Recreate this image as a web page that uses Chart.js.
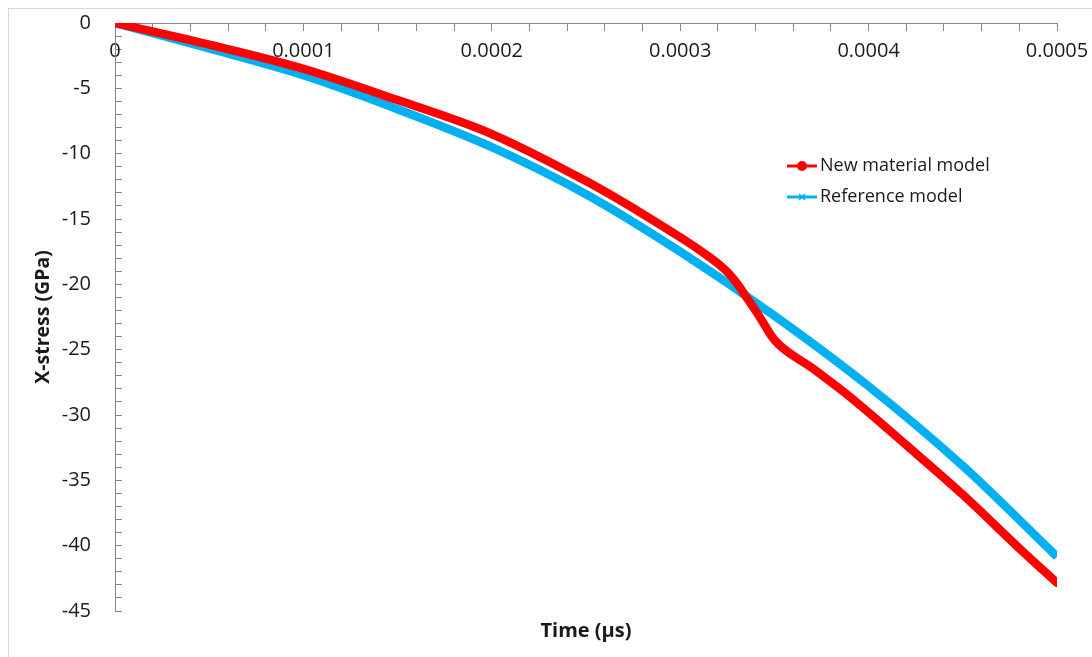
<!DOCTYPE html>
<html>
<head>
<meta charset="utf-8">
<script src="https://cdn.jsdelivr.net/npm/chart.js@4/dist/chart.umd.min.js"></script>
<style>
  html, body { margin: 0; padding: 0; background: #fff; }
  #frame { position: absolute; left: 8px; top: 8px; width: 1100px; height: 700px; border: 1px solid #d9d9d9; box-sizing: border-box; }
  #wrap { position: absolute; left: 0; top: 0; width: 1092px; height: 657px; }
</style>
</head>
<body>
<div id="frame"></div>
<div id="wrap"><canvas id="c" width="1092" height="657"></canvas></div>
<script>
// Time (µs)
const timeNew = [0, 0.00005, 0.0001, 0.00015, 0.0002, 0.00025, 0.00028, 0.0003, 0.00031, 0.00032, 0.000325, 0.00033, 0.000335, 0.000342, 0.00035, 0.00037, 0.00039, 0.00042, 0.00045, 0.00048, 0.0005];
// X-stress (GPa), New material model
const stressNew = [0, -1.65, -3.5, -5.9, -8.5, -12.1, -14.6, -16.4, -17.35, -18.4, -19.05, -19.9, -20.95, -22.45, -24.25, -26.4, -28.6, -32.3, -36.1, -40.2, -42.85];
// Time (µs)
const timeRef = [0, 0.00005, 0.0001, 0.00015, 0.0002, 0.00025, 0.0003, 0.00035, 0.0004, 0.00045, 0.0005];
// X-stress (GPa), Reference model
const stressRef = [0, -1.95, -4.0, -6.6, -9.5, -13.1, -17.5, -22.4, -27.8, -33.9, -40.85];

const seriesNames = ['New material model', 'Reference model'];
const xTickLabels = ['0', '0.0001', '0.0002', '0.0003', '0.0004', '0.0005'];
const yTickLabels = ['0', '-5', '-10', '-15', '-20', '-25', '-30', '-35', '-40', '-45'];

const RED = '#ff0000';
const BLUE = '#00b0f0';
const AXIS = '#868686';
const TXT = '#1a1a1a';

const toPts = (xs, ys) => xs.map((x, i) => ({x: x, y: ys[i]}));

const legendPlugin = {
  id: 'customLegend',
  afterDraw(chart) {
    const ctx = chart.ctx;
    const a = chart.chartArea;
    const x0 = a.left + 672, y0 = a.top + 143, gap = 31;
    const items = [
      {name: seriesNames[0], color: RED, marker: 'circle'},
      {name: seriesNames[1], color: BLUE, marker: 'cross'}
    ];
    ctx.save();
    items.forEach((it, i) => {
      const y = y0 + i * gap;
      ctx.strokeStyle = it.color;
      ctx.lineWidth = 3;
      ctx.beginPath();
      ctx.moveTo(x0, y);
      ctx.lineTo(x0 + 30, y);
      ctx.stroke();
      if (it.marker === 'circle') {
        ctx.fillStyle = it.color;
        ctx.beginPath();
        ctx.arc(x0 + 15, y, 5, 0, Math.PI * 2);
        ctx.fill();
      } else {
        ctx.lineWidth = 1.5;
        ctx.beginPath();
        ctx.moveTo(x0 + 12, y - 3); ctx.lineTo(x0 + 18, y + 3);
        ctx.moveTo(x0 + 12, y + 3); ctx.lineTo(x0 + 18, y - 3);
        ctx.stroke();
      }
      ctx.fillStyle = TXT;
      ctx.font = '18px "Open Sans"';
      ctx.textAlign = 'left';
      ctx.textBaseline = 'middle';
      ctx.fillText(it.name, x0 + 33, y);
    });
    ctx.restore();
  }
};

new Chart(document.getElementById('c'), {
  type: 'line',
  data: {
    datasets: [
      {
        label: seriesNames[0],
        data: toPts(timeNew, stressNew),
        borderColor: RED,
        backgroundColor: RED,
        borderWidth: 8.5,
        pointRadius: 0,
        borderCapStyle: 'round',
        borderJoinStyle: 'round',
        cubicInterpolationMode: 'monotone',
        xAxisID: 'x', yAxisID: 'y'
      },
      {
        label: seriesNames[1],
        data: toPts(timeRef, stressRef),
        borderColor: BLUE,
        backgroundColor: BLUE,
        borderWidth: 8.5,
        pointRadius: 0,
        borderCapStyle: 'butt',
        borderJoinStyle: 'round',
        cubicInterpolationMode: 'monotone',
        xAxisID: 'x', yAxisID: 'y'
      }
    ]
  },
  options: {
    responsive: false,
    animation: false,
    devicePixelRatio: 1,
    layout: { padding: { top: 23, right: 35, left: 0, bottom: 0 } },
    plugins: { legend: { display: false }, tooltip: { enabled: false } },
    scales: {
      x: {
        type: 'linear',
        position: { y: 0 },
        min: 0, max: 0.0005,
        grid: { drawOnChartArea: false, drawTicks: true, tickLength: 7, color: AXIS, lineWidth: 1 },
        border: { display: true, color: AXIS, width: 1 },
        ticks: {
          stepSize: 0.00002,
          autoSkip: false, maxRotation: 0, minRotation: 0,
          padding: 9,
          color: TXT,
          font: { family: '"Open Sans"', size: 20 },
          callback: (v) => {
            const k = Math.round(v / 0.0001);
            if (Math.abs(v / 0.0001 - k) < 1e-6) return xTickLabels[k];
            return '';
          }
        },
        afterFit: (s) => { s.height = 0; s.paddingLeft = 0; s.paddingRight = 0; s.paddingTop = 0; s.paddingBottom = 0; }
      },
      x2: {
        type: 'linear',
        position: 'bottom',
        min: 0, max: 0.0005,
        grid: { display: false },
        border: { display: false },
        ticks: { display: false },
        title: { display: true, text: 'Time (\u00b5s)', color: TXT, font: { family: '"Open Sans"', size: 20, weight: 'bold' }, padding: { top: 0, bottom: 14 } },
        afterFit: (s) => { s.height = 46; s.paddingLeft = 0; s.paddingRight = 0; }
      },
      y: {
        type: 'linear',
        position: 'left',
        min: -45, max: 0,
        grid: { drawOnChartArea: false, drawTicks: true, tickLength: -7, color: AXIS, lineWidth: 1 },
        border: { display: true, color: AXIS, width: 1 },
        ticks: {
          stepSize: 1,
          autoSkip: false,
          padding: 31,
          color: TXT,
          font: { family: '"Open Sans"', size: 20 },
          callback: (v) => {
            if (Math.round(v) % 5 === 0) return yTickLabels[Math.round(-v / 5)];
            return '';
          }
        },
        title: { display: true, text: 'X-stress (GPa)', color: TXT, font: { family: '"Open Sans"', size: 19.5, weight: 'bold' }, padding: { top: 32, bottom: 0 } },
        afterFit: (s) => { s.width = 115; s.paddingTop = 0; s.paddingBottom = 0; }
      }
    }
  },
  plugins: [legendPlugin]
});
</script>
</body>
</html>
